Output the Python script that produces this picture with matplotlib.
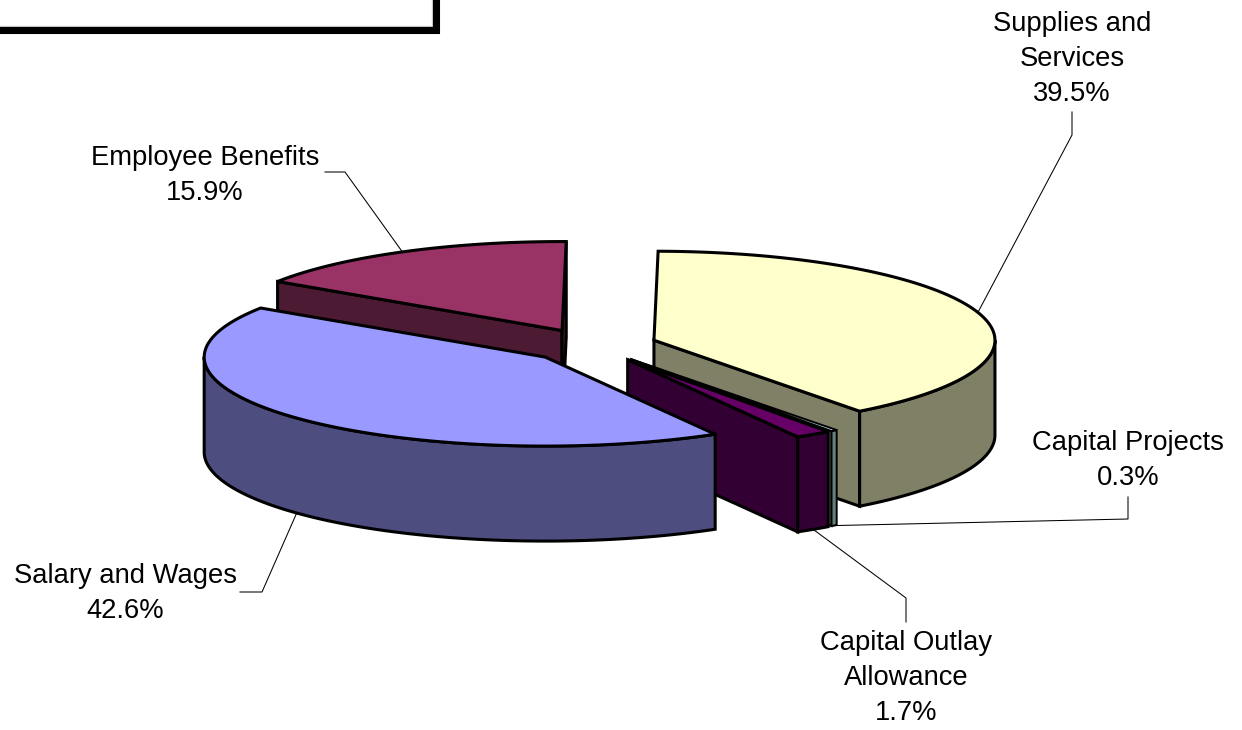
import numpy as np
import matplotlib
matplotlib.use("Agg")
import matplotlib.pyplot as plt
from matplotlib.patches import Polygon, Rectangle

plt.rcParams['font.family'] = ['Liberation Sans', 'DejaVu Sans']

labels = ["Supplies and\nServices", "Capital Projects", "Capital Outlay\nAllowance",
          "Salary and Wages", "Employee Benefits"]
values = [39.5, 0.3, 1.7, 42.6, 15.9]
top_colors = ["#FFFFCC", "#CCFFFF", "#660066", "#9999FF", "#993366"]
side_colors = ["#808066", "#668080", "#330033", "#4D4D80", "#4D1A33"]

# draw order, back to front
draw_order = [4, 0, 1, 2, 3]

# where the label text sits and where the leader line bends (pixels)
text_pos = [(1072, 59), (1128, 460.5), (906, 678), (125, 593.5), (205, 175.5)]
elbows = [[(1072, 135), (1072, 112)], [(1128, 519), (1128, 497)], [(906, 598), (906, 622)],
          [(262, 592), (240, 592)], [(345, 172), (325, 172)]]

rx, ry = 341, 89
depth = 95
cx, cy = 592.4, 345.5
explode = 0.19
start_angle = 0.7
edge = 2.2


def point(c, a):
    # a in degrees, clockwise from the top of the pie
    r = np.radians(a)
    return c[0] + rx * np.sin(r), c[1] - ry * np.cos(r)


def arc(c, a1, a2):
    t = np.linspace(a1, a2, 120)
    r = np.radians(t)
    return np.column_stack([c[0] + rx * np.sin(r), c[1] - ry * np.cos(r)])


def radial_face(ax, c, a, color, lw):
    x, y = point(c, a)
    pts = [c, (x, y), (x, y + depth), (c[0], c[1] + depth)]
    ax.add_patch(Polygon(pts, closed=True, fc=color, ec="black", lw=lw, joinstyle="miter"))


fig = plt.figure(figsize=(12.42, 7.3), dpi=100)
ax = fig.add_axes([0, 0, 1, 1])
ax.set_xlim(0, 1242)
ax.set_ylim(730, 0)
ax.axis("off")

# box left over from the page, cut by the top left corner
ax.add_patch(Rectangle((-20, -20), 456, 50, fc="white", ec="black", lw=5.8, joinstyle="miter"))
ax.add_patch(Rectangle((-20, -20), 451.5, 45.5, fc="none", ec="#CCCCCC", lw=0.7))

fracs = np.array(values) / sum(values) * 360
ends = start_angle + np.cumsum(fracs)
starts = ends - fracs
mids = (starts + ends) / 2
centers = [(cx + explode * rx * np.sin(np.radians(m)), cy - explode * ry * np.cos(np.radians(m))) for m in mids]

for i in draw_order:
    c = centers[i]
    a1, a2 = starts[i], ends[i]
    lw = 1.4 if values[i] < 1 else edge
    if np.sin(np.radians(a1)) < 0:
        radial_face(ax, c, a1, side_colors[i], lw)
    if np.sin(np.radians(a2)) > 0:
        radial_face(ax, c, a2, side_colors[i], lw)
    # outer wall, only the part that faces the front
    lo, hi = max(a1, 90), min(a2, 270)
    if lo < hi:
        a = arc(c, lo, hi)
        b = a[::-1] + [0, depth]
        ax.add_patch(Polygon(np.vstack([a, b]), closed=True, fc=side_colors[i], ec="black",
                             lw=lw, joinstyle="miter"))
    top = np.vstack([[c], arc(c, a1, a2)])
    ax.add_patch(Polygon(top, closed=True, fc=top_colors[i], ec="black", lw=lw, joinstyle="miter"))

# labels with leader lines
for i in range(len(values)):
    x, y = point(centers[i], mids[i])
    if 90 < mids[i] < 270:
        y += depth
    xs = [x] + [p[0] for p in elbows[i]]
    ys = [y] + [p[1] for p in elbows[i]]
    ax.plot(xs, ys, color="black", lw=0.75, zorder=1.5 if i in (0, 4) else 3)
    ax.text(text_pos[i][0], text_pos[i][1], "%s\n%.1f%%" % (labels[i], values[i]),
            ha="center", va="center", fontsize=19.7, color="black", linespacing=1.43)

fig.savefig("out.png", dpi=100, facecolor="white")
